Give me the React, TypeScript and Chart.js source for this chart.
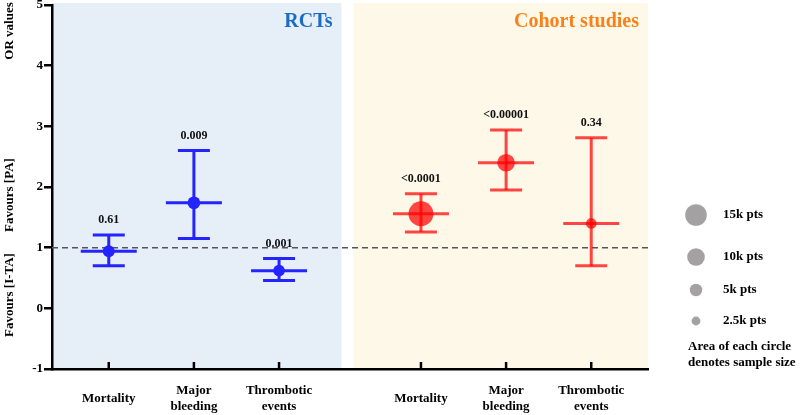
import React, { useEffect, useRef } from "react";
import { Chart, registerables } from "chart.js";

Chart.register(...registerables);

// ---- data ----
const categories: string[][] = [["Mortality"], ["Major", "bleeding"], ["Thrombotic", "events"]];
const groupTitles = ["RCTs", "Cohort studies"];
const rctPositions = [2 / 3, 5 / 3, 8 / 3];
const cohortPositions = [13 / 3, 16 / 3, 19 / 3];
const rctOR = [0.94, 1.74, 0.62];
const rctLow = [0.7, 1.15, 0.46];
const rctHigh = [1.21, 2.6, 0.82];
const rctN = [4600, 5200, 4400];
const rctP = ["0.61", "0.009", "0.001"];
const cohortOR = [1.56, 2.4, 1.4];
const cohortLow = [1.26, 1.95, 0.7];
const cohortHigh = [1.89, 2.94, 2.81];
const cohortN = [20000, 10000, 3600];
const cohortP = ["<0.0001", "<0.00001", "0.34"];
const legendN = [15000, 10000, 5000, 2500];
const legendLabels = ["15k pts", "10k pts", "5k pts", "2.5k pts"];
const legendNote = ["Area of each circle", "denotes sample size"];
const yTicks = [-1, 0, 1, 2, 3, 4, 5];
const yTitles = ["OR values", "Favours [PA]", "Favours [I-TA]"];
const refValue = 1;
const panelRanges = [
  [0, 3.4],
  [3.54, 7],
];

// ---- styles ----
const FONT = "'Liberation Serif', 'Times New Roman', serif";
const BLUE = "rgb(36, 36, 255)";
const RED = "rgba(255, 0, 0, 0.72)";
const PANEL_BG = ["#e6eef8", "#fdf8e8"];
const TITLE_COLORS = ["#1a6cc4", "#f7821b"];
const LEGEND_GRAY = "#a3a1a1";

const radius = (n: number) => 10.8 * Math.sqrt(n / 15000);

const overlay = {
  id: "overlay",
  beforeDraw(chart: any) {
    const { ctx, chartArea, scales } = chart;
    const x = scales.x;
    ctx.save();
    ctx.fillStyle = "#ffffff";
    ctx.fillRect(0, 0, chart.width, chart.height);
    panelRanges.forEach((r, i) => {
      const x0 = x.getPixelForValue(r[0]);
      const x1 = x.getPixelForValue(r[1]);
      ctx.fillStyle = PANEL_BG[i];
      ctx.fillRect(x0, chartArea.top - 2, x1 - x0, chartArea.bottom - chartArea.top + 1);
    });
    ctx.restore();
  },
  beforeDatasetsDraw(chart: any) {
    const { ctx, chartArea, scales } = chart;
    const y = scales.y.getPixelForValue(refValue);
    ctx.save();
    ctx.strokeStyle = "#555555";
    ctx.lineWidth = 1.5;
    ctx.setLineDash([6, 4]);
    ctx.beginPath();
    ctx.moveTo(chartArea.left, y);
    ctx.lineTo(chartArea.right, y);
    ctx.stroke();
    ctx.restore();
  },
  afterDatasetsDraw(chart: any) {
    const { ctx, chartArea, scales } = chart;
    const xs = scales.x;
    const ys = scales.y;
    const line = (x0: number, y0: number, x1: number, y1: number) => {
      ctx.beginPath();
      ctx.moveTo(x0, y0);
      ctx.lineTo(x1, y1);
      ctx.stroke();
    };
    const groups = [
      { pos: rctPositions, or: rctOR, lo: rctLow, hi: rctHigh, p: rctP, color: BLUE, lw: 3 },
      { pos: cohortPositions, or: cohortOR, lo: cohortLow, hi: cohortHigh, p: cohortP, color: RED, lw: 3 },
    ];
    ctx.save();
    groups.forEach((g) => {
      g.pos.forEach((v, i) => {
        const px = xs.getPixelForValue(v);
        const yHi = ys.getPixelForValue(g.hi[i]);
        const yLo = ys.getPixelForValue(g.lo[i]);
        const yMid = ys.getPixelForValue(g.or[i]);
        ctx.strokeStyle = g.color;
        ctx.lineWidth = g.lw;
        ctx.lineCap = "butt";
        line(px, yHi, px, yLo);
        line(px - 16, yHi, px + 16, yHi);
        line(px - 16, yLo, px + 16, yLo);
        line(px - 28, yMid, px + 28, yMid);
        ctx.fillStyle = "#111";
        ctx.font = `bold 12px ${FONT}`;
        ctx.textAlign = "center";
        ctx.textBaseline = "middle";
        ctx.fillText(g.p[i], px, yHi - 15);
      });
    });

    // x tick marks (inside) and labels
    const allPos = [...rctPositions, ...cohortPositions];
    ctx.strokeStyle = "#000";
    ctx.lineWidth = 2.5;
    allPos.forEach((v, i) => {
      const px = xs.getPixelForValue(v);
      line(px, chartArea.bottom, px, chartArea.bottom - 7);
      const lab = categories[i % categories.length];
      ctx.fillStyle = "#000";
      ctx.font = `bold 13px ${FONT}`;
      ctx.textAlign = "center";
      ctx.textBaseline = "middle";
      if (lab.length === 1) {
        ctx.fillText(lab[0], px, chartArea.bottom + 30);
      } else {
        ctx.fillText(lab[0], px, chartArea.bottom + 22);
        ctx.fillText(lab[1], px, chartArea.bottom + 38);
      }
    });

    // panel titles
    ctx.font = `bold 20px ${FONT}`;
    ctx.textAlign = "right";
    ctx.textBaseline = "middle";
    panelRanges.forEach((r, i) => {
      ctx.fillStyle = TITLE_COLORS[i];
      ctx.fillText(groupTitles[i], xs.getPixelForValue(r[1]) - 9, chartArea.top + 17);
    });

    // y titles
    ctx.fillStyle = "#000";
    ctx.font = `bold 13px ${FONT}`;
    ctx.textAlign = "center";
    ctx.textBaseline = "middle";
    const yCenters = [31, 195, 295];
    yTitles.forEach((t, i) => {
      ctx.save();
      ctx.translate(10, yCenters[i]);
      ctx.rotate(-Math.PI / 2);
      ctx.fillText(t, 0, 0);
      ctx.restore();
    });

    // size legend
    const legY = [215, 257, 290, 321];
    legendN.forEach((n, i) => {
      ctx.fillStyle = LEGEND_GRAY;
      ctx.beginPath();
      ctx.arc(696, legY[i], radius(n), 0, Math.PI * 2);
      ctx.fill();
      ctx.fillStyle = "#000";
      ctx.font = `bold 13px ${FONT}`;
      ctx.textAlign = "left";
      ctx.textBaseline = "middle";
      ctx.fillText(legendLabels[i], 723, legY[i]);
    });
    ctx.fillText(legendNote[0], 688, 347);
    ctx.fillText(legendNote[1], 688, 363);
    ctx.restore();
  },
};

export default function App() {
  const ref = useRef<HTMLCanvasElement>(null);
  useEffect(() => {
    if (!ref.current) return;
    const chart = new Chart(ref.current, {
      type: "scatter",
      data: {
        datasets: [
          {
            label: groupTitles[0],
            data: rctPositions.map((x, i) => ({ x, y: rctOR[i] })),
            pointRadius: rctN.map(radius),
            backgroundColor: BLUE,
            borderWidth: 0,
            clip: false,
          },
          {
            label: groupTitles[1],
            data: cohortPositions.map((x, i) => ({ x, y: cohortOR[i] })),
            pointRadius: cohortN.map(radius),
            backgroundColor: RED,
            borderWidth: 0,
            clip: false,
          },
        ],
      },
      options: {
        animation: false,
        responsive: false,
        events: [],
        layout: { autoPadding: false, padding: { top: 5, left: 0, right: 152, bottom: 0 } },
        plugins: { legend: { display: false }, tooltip: { enabled: false } },
        scales: {
          x: {
            type: "linear",
            min: 0,
            max: 7,
            grid: { display: false },
            border: { display: true, color: "#000", width: 2.5 },
            ticks: { display: false },
            afterFit: (s: any) => {
              s.height = 46;
              s.paddingLeft = 0;
              s.paddingRight = 0;
            },
          },
          y: {
            type: "linear",
            min: -1,
            max: 5,
            afterBuildTicks: (s: any) => {
              s.ticks = yTicks.map((v) => ({ value: v }));
            },
            ticks: {
              color: "#000",
              font: { family: FONT, weight: "bold", size: 13 },
              padding: 1,
            },
            grid: { drawOnChartArea: false, color: "#000", lineWidth: 2.5, tickLength: 8 },
            border: { display: true, color: "#000", width: 2.5 },
            afterFit: (s: any) => {
              s.width = 52;
              s.paddingTop = 0;
              s.paddingBottom = 0;
            },
          },
        },
      } as any,
      plugins: [overlay],
    });
    return () => chart.destroy();
  }, []);
  return (
    <div style={{ position: "fixed", left: 0, top: 0, width: 800, height: 415, background: "#fff" }}>
      <canvas ref={ref} width={800} height={415} style={{ display: "block" }} />
    </div>
  );
}
